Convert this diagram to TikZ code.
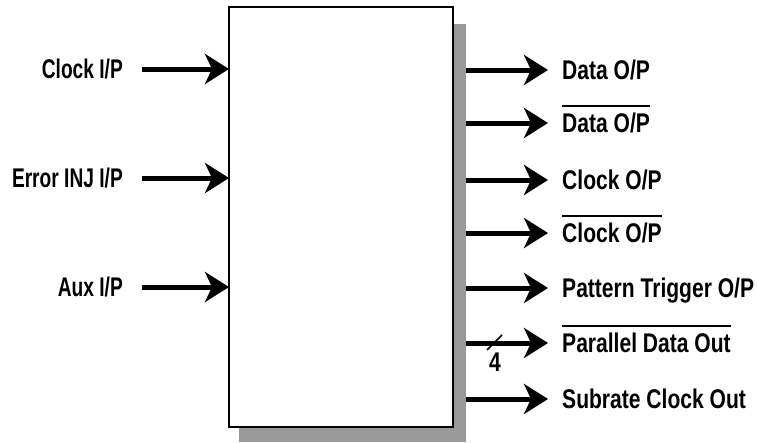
\documentclass[tikz,border=0pt]{standalone}
\usepackage{fontspec}
\setmainfont{Liberation Sans}
\newfontfamily\infont{Liberation Sans}[FakeStretch=0.71]
\newfontfamily\outfont{Liberation Sans}[FakeStretch=0.78]
\usetikzlibrary{arrows.meta}
\newcommand\obar[1]{\setbox0\hbox{#1}\rlap{\rule[26pt]{\wd0}{2pt}}\box0}

\tikzset{
	sig/.style={line width=5pt, -{Stealth[length=24pt,width=30pt,inset=7pt]}},
	inlbl/.style={anchor=east, inner sep=0pt, text height=19pt, text depth=0pt, font=\infont\bfseries\fontsize{27}{32}\selectfont},
	outlbl/.style={anchor=west, inner sep=0pt, text height=19pt, text depth=0pt, font=\outfont\bfseries\fontsize{27}{32}\selectfont}
}

\begin{document}
\begin{tikzpicture}[x=1pt, y=-1pt]
		%%%%% START %%%%%
		\useasboundingbox (0, 0) rectangle (757, 442);
		
		% shadow and box
		\fill[black!40] (239, 24) rectangle (466, 442);
		\node[draw, fill=white, line width=2pt, inner sep=0pt, outer sep=0pt, minimum width=224pt, minimum height=420pt] (gen) at (341, 217) {};
		\coordinate (rim) at (466, 0);
		
		% inputs
		\node[inlbl] (clkin) at (123, 69) {Clock I/P};
		\node[inlbl] (errin) at (123, 178) {Error INJ I/P};
		\node[inlbl] (auxin) at (123, 287) {Aux I/P};
		
		\draw[sig] ([xshift=19pt]clkin.east) -- (gen.west |- clkin.east);
		\draw[sig] ([xshift=19pt]errin.east) -- (gen.west |- errin.east);
		\draw[sig] ([xshift=19pt]auxin.east) -- (gen.west |- auxin.east);
		
		% outputs
		\node[outlbl] (dataout) at (562, 70) {Data O/P};
		\node[outlbl] (ndataout) at (562, 123) {\obar{Data O/P}};
		\node[outlbl] (clkout) at (562, 180) {Clock O/P};
		\node[outlbl] (nclkout) at (562, 233) {\obar{Clock O/P}};
		\node[outlbl] (trigout) at (562, 288) {Pattern Trigger O/P};
		\node[outlbl] (parout) at (562, 343) {\obar{Parallel Data Out}};
		\node[outlbl] (subout) at (562, 399) {Subrate Clock Out};
		
		\draw[sig] (rim |- dataout.west) -- ([xshift=-14pt]dataout.west);
		\draw[sig] (rim |- ndataout.west) -- ([xshift=-14pt]ndataout.west);
		\draw[sig] (rim |- clkout.west) -- ([xshift=-14pt]clkout.west);
		\draw[sig] (rim |- nclkout.west) -- ([xshift=-14pt]nclkout.west);
		\draw[sig] (rim |- trigout.west) -- ([xshift=-14pt]trigout.west);
		\draw[sig] (rim |- parout.west) -- ([xshift=-14pt]parout.west);
		\draw[sig] (rim |- subout.west) -- ([xshift=-14pt]subout.west);
		
		% bus width mark
		\draw[line width=1.5pt] (487, 350) -- (502, 335);
		\node[inner sep=0pt, text height=19pt, text depth=0pt, font=\outfont\bfseries\fontsize{27}{32}\selectfont] (buswidth) at (495, 362) {4};
		
		%%%%% END %%%%%
	\end{tikzpicture}
\end{document}
